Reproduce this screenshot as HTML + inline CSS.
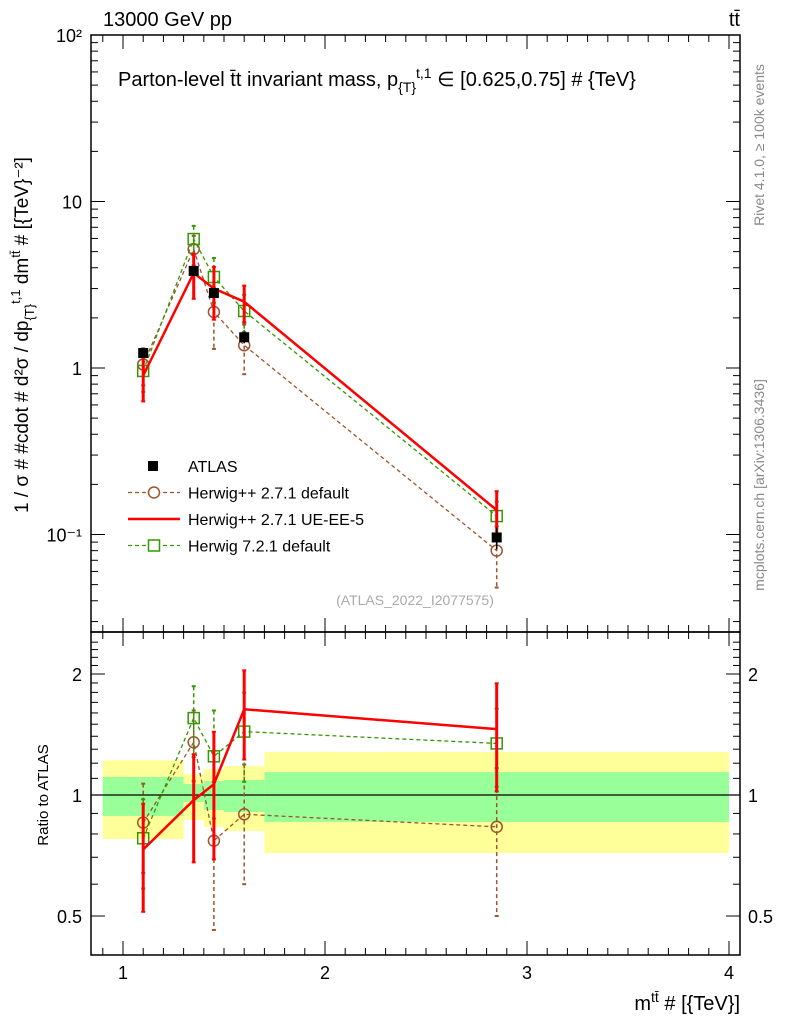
<!DOCTYPE html>
<html><head><meta charset="utf-8"><style>
body{margin:0;background:#fff;}
svg{font-family:"Liberation Sans",sans-serif;}
</style></head><body>
<svg id="c" width="786" height="1024" xmlns="http://www.w3.org/2000/svg">
<text x="103" y="26" font-size="20">13000 GeV pp</text>
<text x="740" y="26" font-size="20" text-anchor="end">tt̄</text>
<text x="118" y="86" font-size="20">Parton-level t̄t invariant mass, p<tspan font-size="14" dy="6">{T}</tspan><tspan font-size="14" dy="-14">t,1</tspan><tspan dy="8"> ∈ [0.625,0.75] # {TeV}</tspan></text>
<text x="415" y="605" font-size="14" fill="#aaa" text-anchor="middle">(ATLAS_2022_I2077575)</text>
<text transform="translate(764,145) rotate(-90)" font-size="14" fill="#888" text-anchor="middle">Rivet 4.1.0, ≥ 100k events</text>
<text transform="translate(764,485) rotate(-90)" font-size="14" fill="#888" text-anchor="middle">mcplots.cern.ch [arXiv:1306.3436]</text>
<text transform="translate(28,335) rotate(-90)" font-size="19" text-anchor="middle">1 / σ # #cdot # d²σ / dp<tspan font-size="13" dy="6">{T}</tspan><tspan font-size="13" dy="-14">t,1</tspan><tspan dy="8"> dm</tspan><tspan font-size="13" dy="-8">tt̄</tspan><tspan dy="8"> # [{TeV}⁻²]</tspan></text>
<text transform="translate(48,795) rotate(-90)" font-size="15" text-anchor="middle">Ratio to ATLAS</text>
<text x="740" y="1010" font-size="20" text-anchor="end">m<tspan font-size="14" dy="-8">tt̄</tspan><tspan dy="8"> # [{TeV}]</tspan></text>
<g id="g"></g>
</svg>
<script>
const xs=[1.1,1.35,1.45,1.6,2.85];
const atlas=[1.23,3.83,2.82,1.53,0.096];
const atlasErr=[0.06,0.05,0.06,0.08,0.15];
const h271=[1.05,5.18,2.17,1.37,0.08];
const h271Err=[0.25,0.2,0.4,0.33,0.4];
const ueee5=[0.90,3.72,3.0,2.5,0.14];
const ueee5Err=[0.3,0.3,0.35,0.25,0.3];
const h721=[0.96,5.95,3.52,2.2,0.129];
const h721Err=[0.25,0.2,0.3,0.25,0.22];
const binEdges=[0.9,1.3,1.4,1.5,1.7,4.0];
const yellowHi=[1.22,1.128,1.16,1.18,1.28];
const yellowLo=[0.777,0.867,0.833,0.814,0.717];
const greenHi=[1.109,1.065,1.083,1.09,1.14];
const greenLo=[0.887,0.961,0.918,0.907,0.857];
const xTicks=[1,2,3,4];
const yTicks=[[100,"10²"],[10,"10"],[1,"1"],[0.1,"10⁻¹"]];
const rTicks=[[2,"2"],[1,"1"],[0.5,"0.5"]];

const NS="http://www.w3.org/2000/svg",G=document.getElementById('g');
const L=91,R=740,T=35,M=632,B=955;
const X=v=>123+(v-1)*202;
const Y=v=>368-Math.log10(v)*166.5;
const RY=v=>795-Math.log10(v)*402;
function el(t,a,p){const e=document.createElementNS(NS,t);for(const k in a)e.setAttribute(k,a[k]);(p||G).appendChild(e);return e;}
for(let i=0;i<5;i++){
 const y=el('rect',{x:X(binEdges[i]),y:RY(yellowHi[i]),width:X(binEdges[i+1])-X(binEdges[i]),height:RY(yellowLo[i])-RY(yellowHi[i]),fill:'#ffff99'});
 
 
 const g=el('rect',{x:X(binEdges[i]),y:RY(greenHi[i]),width:X(binEdges[i+1])-X(binEdges[i]),height:RY(greenLo[i])-RY(greenHi[i]),fill:'#99ff99'});
 
 
}
el('line',{x1:L,x2:R,y1:RY(1),y2:RY(1),stroke:'#000','stroke-width':1.2});
const f1=el('rect',{x:L,y:T,width:R-L,height:M-T,fill:'none',stroke:'#000','stroke-width':1.5});


const f2=el('rect',{x:L,y:M,width:R-L,height:B-M,fill:'none',stroke:'#000','stroke-width':1.5});


for(let v=0.9;v<=4.01;v+=0.1){const x=X(v),maj=Math.abs(v-Math.round(v))<0.01;const l=maj?14:7;
 for(const [a,b] of [[T,M],[M,B]]){el('line',{x1:x,x2:x,y1:b,y2:b-l,stroke:'#000'});el('line',{x1:x,x2:x,y1:a,y2:a+l,stroke:'#000'});}}
xTicks.forEach(v=>{const t=el('text',{x:X(v),y:979,'font-size':18,'text-anchor':'middle'});t.textContent=v;
 
 });
for(let d=-2;d<=2;d++)for(let k=1;k<10;k++){const v=k*Math.pow(10,d),y=Y(v);if(y<T||y>M)continue;const l=k==1?14:7;
 el('line',{x1:L,x2:L+l,y1:y,y2:y,stroke:'#000'});el('line',{x1:R,x2:R-l,y1:y,y2:y,stroke:'#000'});}
yTicks.forEach(([v,s])=>{const t=el('text',{x:82,y:Y(v)+7,'font-size':18,'text-anchor':'end'});t.textContent=s;
 
 });
for(let v=0.4;v<=2.5;v+=0.1){const y=RY(v);if(y<M||y>B)continue;const maj=[0.5,1,2].some(a=>Math.abs(a-v)<0.01);const l=maj?14:7;
 el('line',{x1:L,x2:L+l,y1:y,y2:y,stroke:'#000'});el('line',{x1:R,x2:R-l,y1:y,y2:y,stroke:'#000'});}
rTicks.forEach(([v,s])=>{const t=el('text',{x:82,y:RY(v)+7,'font-size':18,'text-anchor':'end'});t.textContent=s;
 
 
 const t2=el('text',{x:748,y:RY(v)+7,'font-size':18});t2.textContent=s;
 
 });
function series(vals,errs,col,dash,w,marker,name){
 const g=el('g',{});
 
 
 for(const [fy,vv] of [[Y,vals],[RY,vals.map((v,i)=>v/atlas[i])]]){
  el('polyline',{points:xs.map((x,i)=>X(x)+','+fy(vv[i])).join(' '),fill:'none',stroke:col,'stroke-width':w,'stroke-dasharray':dash},g);
  xs.forEach((x,i)=>{const cx=X(x),hi=fy(vv[i]*(1+errs[i])),lo=fy(vv[i]*(1-errs[i]));
   el('line',{x1:cx,x2:cx,y1:hi,y2:lo,stroke:col,'stroke-width':w>2?3:1.5,'stroke-dasharray':dash},g);
   el('line',{x1:cx-2,x2:cx+2,y1:hi,y2:hi,stroke:col,'stroke-width':2},g);
   el('line',{x1:cx-2,x2:cx+2,y1:lo,y2:lo,stroke:col,'stroke-width':2},g);
   const cy=fy(vv[i]);
   if(marker=='o')el('circle',{cx,cy,r:5.5,fill:'none',stroke:col,'stroke-width':1.5},g);
   if(marker=='s')el('rect',{x:cx-5.5,y:cy-5.5,width:11,height:11,fill:'none',stroke:col,'stroke-width':1.5},g);
  });
 }
}
series(h271,h271Err,'#a0522d','4,3',1.3,'o','herwigpp-271-default-series');
series(h721,h721Err,'#339900','4,3',1.3,'s','herwig-721-default-series');
series(ueee5,ueee5Err,'#ff0000','none',2.5,'','herwigpp-ueee5-series');
const ag=el('g',{});


xs.forEach((x,i)=>{const cx=X(x),cy=Y(atlas[i]);
 el('line',{x1:cx,x2:cx,y1:Y(atlas[i]*(1+atlasErr[i])),y2:Y(atlas[i]*(1-atlasErr[i])),stroke:'#000','stroke-width':1.5},ag);
 el('rect',{x:cx-5,y:cy-5,width:10,height:10,fill:'#000'},ag);});
const lg=el('g',{});


const items=[['ATLAS','#000','none','■'],['Herwig++ 2.7.1 default','#a0522d','4,3','o'],['Herwig++ 2.7.1 UE-EE-5','#ff0000','none',''],['Herwig 7.2.1 default','#339900','4,3','s']];
items.forEach(([lab,col,dash,m],i)=>{const y=466+i*26.5;
 if(m=='■')el('rect',{x:148,y:y-5,width:10,height:10,fill:'#000'},lg);
 else{el('line',{x1:128,x2:180,y1:y,y2:y,stroke:col,'stroke-width':m?1.3:2.5,'stroke-dasharray':dash},lg);
  if(m=='o')el('circle',{cx:154,cy:y,r:5.5,fill:'#fff',stroke:col,'stroke-width':1.5},lg);
  if(m=='s')el('rect',{x:148.5,y:y-5.5,width:11,height:11,fill:'#fff',stroke:col,'stroke-width':1.5},lg);}
 const t=el('text',{x:188,y:y+6,'font-size':16},lg);t.textContent=lab;
 
 
});
</script>
</body></html>
